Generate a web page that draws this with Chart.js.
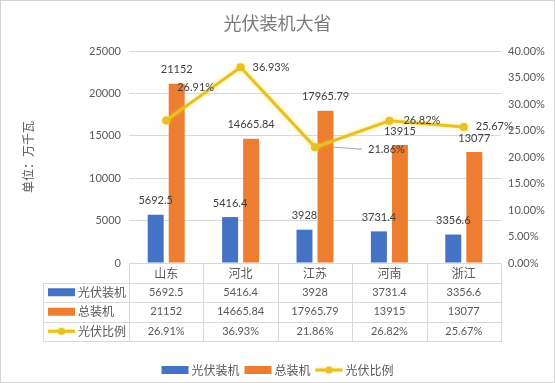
<!DOCTYPE html>
<html><head><meta charset="utf-8">
<script src="https://cdn.jsdelivr.net/npm/chart.js@4/dist/chart.umd.min.js"></script>
<style>html,body{margin:0;padding:0;background:#fff}#wrap{width:555px;height:383px;position:relative}</style>
</head><body><div id="wrap"><canvas id="c" width="555" height="383"></canvas></div>
<script>
const chartTitle = '光伏装机大省';
const axisTitle = '单位：万千瓦';
const categories = ['山东', '河北', '江苏', '河南', '浙江'];
const seriesNames = ['光伏装机', '总装机', '光伏比例'];
const pvCapacity = [5692.5, 5416.4, 3928, 3731.4, 3356.6];
const totalCapacity = [21152, 14665.84, 17965.79, 13915, 13077];
const pvShare = [26.91, 36.93, 21.86, 26.82, 25.67];
const leftAxis = { min: 0, max: 25000, step: 5000 };
const rightAxis = { min: 0, max: 40, step: 5 };

const colors = ['#4472C4', '#ED7D31', '#E6C02A'];
const FONT = "Lato, 'Noto Sans CJK SC', sans-serif";
const TXT = '#595959';
// label placement style for line labels: [dx to text left, dy, leader line]
const shareLabelStyle = [[11, -33, false], [12, 0, false], [53, 2, true], [14, 0, false], [12, 0, false]];

const fmtNum = v => String(v);
const fmtPct = v => v.toFixed(2) + '%';

function drawKey(ctx, i, x, y) {
  if (i < 2) {
    ctx.fillStyle = colors[i];
    ctx.fillRect(x, y - 4, 27, 8);
  } else {
    ctx.save();
    ctx.shadowColor = 'rgba(255,215,0,0.6)';
    ctx.shadowBlur = 3;
    ctx.strokeStyle = colors[2];
    ctx.lineWidth = 3;
    ctx.beginPath(); ctx.moveTo(x, y); ctx.lineTo(x + 27, y); ctx.stroke();
    ctx.fillStyle = colors[2];
    ctx.beginPath(); ctx.arc(x + 13.5, y, 3.5, 0, Math.PI * 2); ctx.fill();
    ctx.restore();
  }
}

const extras = {
  id: 'extras',
  beforeDraw(chart) {
    const ctx = chart.ctx;
    ctx.save();
    ctx.fillStyle = '#fff';
    ctx.fillRect(0, 0, chart.width, chart.height);
    ctx.strokeStyle = '#d4d4d4';
    ctx.lineWidth = 1;
    ctx.strokeRect(0.5, 0.5, chart.width - 1, chart.height - 1);
    ctx.fillStyle = '#7a7a7a';
    ctx.font = "18px 'Noto Sans CJK SC', sans-serif";
    ctx.textAlign = 'center'; ctx.textBaseline = 'middle';
    ctx.fillText(chartTitle, chart.width / 2, 23);
    ctx.restore();
  },
  beforeDatasetDraw(chart, args) {
    if (args.index === 2) {
      chart.ctx.save();
      chart.ctx.shadowColor = 'rgba(255,220,0,0.55)';
      chart.ctx.shadowBlur = 4;
    }
  },
  afterDatasetDraw(chart, args) {
    if (args.index === 2) chart.ctx.restore();
  },
  afterDraw(chart) {
    const ctx = chart.ctx;
    const area = chart.chartArea;
    const xs = chart.scales.x;
    ctx.save();
    // bar labels
    ctx.font = '11px ' + FONT;
    ctx.fillStyle = '#404040';
    ctx.textAlign = 'center'; ctx.textBaseline = 'middle';
    [0, 1].forEach(d => {
      const meta = chart.getDatasetMeta(d);
      meta.data.forEach((el, i) => {
        const v = chart.data.datasets[d].data[i];
        ctx.fillText(fmtNum(v), el.x, el.y - 14);
      });
    });
    // line labels
    const lm = chart.getDatasetMeta(2);
    ctx.textAlign = 'left';
    lm.data.forEach((el, i) => {
      const [dx, dy, leader] = shareLabelStyle[i];
      const tx = el.x + dx, ty = el.y + dy;
      if (leader) {
        ctx.strokeStyle = '#a6a6a6'; ctx.lineWidth = 1;
        ctx.beginPath(); ctx.moveTo(el.x + 18, el.y); ctx.lineTo(tx - 6, ty); ctx.stroke();
      }
      ctx.fillStyle = '#404040';
      ctx.fillText(fmtPct(pvShare[i]), tx, ty);
    });

    // data table
    const top = area.bottom;
    const rowH = 19.5;
    const legendLeft = 43;
    const n = categories.length;
    const colW = (area.right - area.left) / n;
    ctx.strokeStyle = '#d9d9d9';
    ctx.lineWidth = 1;
    for (let r = 1; r <= 4; r++) {
      const y = Math.round(top + r * rowH) + 0.5;
      ctx.beginPath(); ctx.moveTo(legendLeft, y); ctx.lineTo(area.right, y); ctx.stroke();
    }
    ctx.beginPath();
    ctx.moveTo(legendLeft + 0.5, Math.round(top + rowH)); ctx.lineTo(legendLeft + 0.5, Math.round(top + 4 * rowH) + 1);
    ctx.stroke();
    for (let i = 0; i <= n; i++) {
      const x = Math.round(area.left + i * colW) + 0.5;
      ctx.beginPath(); ctx.moveTo(x, top); ctx.lineTo(x, Math.round(top + 4 * rowH) + 1); ctx.stroke();
    }
    ctx.textAlign = 'center'; ctx.textBaseline = 'middle';
    ctx.fillStyle = TXT;
    ctx.font = "12px 'Noto Sans CJK SC', sans-serif";
    categories.forEach((c, i) => ctx.fillText(c, xs.getPixelForValue(i), top + rowH / 2 + 1));
    const rows = [pvCapacity.map(fmtNum), totalCapacity.map(fmtNum), pvShare.map(fmtPct)];
    rows.forEach((row, r) => {
      const cy = top + (r + 1.5) * rowH;
      ctx.font = '11px ' + FONT;
      ctx.textAlign = 'center';
      ctx.fillStyle = TXT;
      row.forEach((t, i) => ctx.fillText(t, xs.getPixelForValue(i), cy));
      drawKey(ctx, r, legendLeft + 5, cy);
      ctx.font = "12px 'Noto Sans CJK SC', sans-serif";
      ctx.textAlign = 'left';
      ctx.fillStyle = TXT;
      ctx.fillText(seriesNames[r], legendLeft + 35, cy);
    });

    // bottom legend
    ctx.font = "12px 'Noto Sans CJK SC', sans-serif";
    const widths = seriesNames.map(s => 27 + 3 + ctx.measureText(s).width);
    const gap = 5;
    const total = widths.reduce((a, b) => a + b, 0) + gap * (widths.length - 1);
    let lx = chart.width / 2 - total / 2;
    const ly = 370;
    seriesNames.forEach((s, i) => {
      drawKey(ctx, i, lx, ly);
      ctx.fillStyle = TXT; ctx.textAlign = 'left'; ctx.textBaseline = 'middle';
      ctx.fillText(s, lx + 30, ly);
      lx += widths[i] + gap;
    });
    ctx.restore();
  }
};

new Chart(document.getElementById('c'), {
  data: {
    labels: categories,
    datasets: [
      { type: 'bar', label: seriesNames[0], data: pvCapacity, backgroundColor: colors[0], yAxisID: 'y', order: 1,
        categoryPercentage: 0.565, barPercentage: 0.76 },
      { type: 'bar', label: seriesNames[1], data: totalCapacity, backgroundColor: colors[1], yAxisID: 'y', order: 1,
        categoryPercentage: 0.565, barPercentage: 0.76 },
      { type: 'line', label: seriesNames[2], data: pvShare, borderColor: colors[2], backgroundColor: colors[2],
        borderWidth: 3, pointRadius: 4, pointHoverRadius: 4, pointBorderWidth: 0, yAxisID: 'y1', order: 0, tension: 0 }
    ]
  },
  options: {
    responsive: false,
    animation: false,
    devicePixelRatio: 1,
    layout: { padding: { left: 10, right: 0, top: 51, bottom: 120 } },
    plugins: { legend: { display: false }, tooltip: { enabled: false }, title: { display: false } },
    scales: {
      x: { display: false, offset: true },
      y: {
        position: 'left', min: leftAxis.min, max: leftAxis.max,
        ticks: { stepSize: leftAxis.step, color: TXT, font: { family: FONT, size: 11 }, padding: 8,
          callback: v => String(v) },
        grid: { color: '#d9d9d9', drawTicks: false },
        border: { display: false },
        title: { display: true, text: axisTitle, color: TXT, font: { family: "'Noto Sans CJK SC', sans-serif", size: 12 }, padding: { top: 11, bottom: 0 } },
        afterFit(s) { s.width = 119; }
      },
      y1: {
        position: 'right', min: rightAxis.min, max: rightAxis.max,
        ticks: { stepSize: rightAxis.step, color: TXT, font: { family: FONT, size: 11 }, padding: 7,
          callback: v => fmtPct(v) },
        grid: { display: false, drawTicks: false },
        border: { display: false },
        afterFit(s) { s.width = 54; }
      }
    }
  },
  plugins: [extras]
});
</script>
</body></html>
